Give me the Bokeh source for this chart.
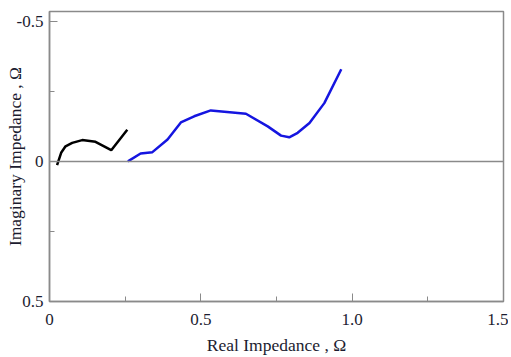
from bokeh.plotting import figure
from bokeh.models import Range1d, FixedTicker, Span
from bokeh.embed import file_html
from bokeh.resources import INLINE

# data (real, imaginary) in ohm
black_re = [0.025, 0.039, 0.053, 0.075, 0.108, 0.152, 0.204, 0.257]
black_im = [0.013, -0.032, -0.054, -0.066, -0.076, -0.070, -0.040, -0.113]
blue_re = [0.259, 0.301, 0.340, 0.390, 0.434, 0.478, 0.533, 0.649, 0.721,
           0.765, 0.792, 0.820, 0.859, 0.908, 0.964]
blue_im = [0.0, -0.028, -0.033, -0.078, -0.139, -0.161, -0.182, -0.170, -0.125,
           -0.092, -0.086, -0.102, -0.137, -0.208, -0.329]

x_ticks = [0, 0.5, 1.0, 1.5]
x_minor = [0.25, 0.75, 1.25]
x_labels = ["0", "0.5", "1.0", "1.5"]
y_ticks = [-0.5, 0, 0.5]
y_minor = [-0.25, 0.25]
y_labels = ["-0.5", "0", "0.5"]

FONT = "Liberation Serif"
GRAY = "#8a8a8a"
TXT = "#1c1c30"

p = figure(width=508, height=357, output_backend="svg", toolbar_location=None,
           x_range=Range1d(0, 1.5), y_range=Range1d(0.5, -0.535),
           min_border_left=49, min_border_right=5, min_border_top=11, min_border_bottom=40)
p.xgrid.visible = False
p.ygrid.visible = False
p.outline_line_color = GRAY
p.outline_line_width = 1.5
p.background_fill_color = "white"

p.xaxis.ticker = FixedTicker(ticks=x_ticks, minor_ticks=x_minor)
p.yaxis.ticker = FixedTicker(ticks=y_ticks, minor_ticks=y_minor)
p.xaxis.major_label_overrides = {t: l for t, l in zip(x_ticks, x_labels)}
p.yaxis.major_label_overrides = {t: l for t, l in zip(y_ticks, y_labels)}

for ax in (p.xaxis, p.yaxis):
    ax.axis_line_color = GRAY
    ax.axis_line_width = 1.5
    ax.major_tick_line_color = GRAY
    ax.minor_tick_line_color = GRAY
    ax.major_tick_in = 8
    ax.major_tick_out = 0
    ax.minor_tick_in = 5
    ax.minor_tick_out = 0
    ax.major_label_text_font = FONT
    ax.major_label_text_font_size = "17px"
    ax.major_label_text_color = TXT
    ax.major_label_text_line_height = 1.0
    ax.axis_label_text_font = FONT
    ax.axis_label_text_font_size = "17.5px"
    ax.axis_label_text_font_style = "normal"
    ax.axis_label_text_color = TXT
    ax.axis_label_text_line_height = 1.0

p.xaxis.axis_label = "Real Impedance , Ω"
p.yaxis.axis_label = "Imaginary Impedance , Ω"
p.xaxis.major_label_standoff = 12
p.xaxis.axis_label_standoff = 7
p.yaxis.major_label_standoff = 6
p.yaxis.axis_label_standoff = -11

p.add_layout(Span(location=0, dimension="width", line_color=GRAY, line_width=1.5))

p.line(black_re, black_im, line_color="black", line_width=2.5)
p.line(blue_re, blue_im, line_color="#1515e0", line_width=2.5)

open("out.html", "w").write(file_html(p, INLINE))
